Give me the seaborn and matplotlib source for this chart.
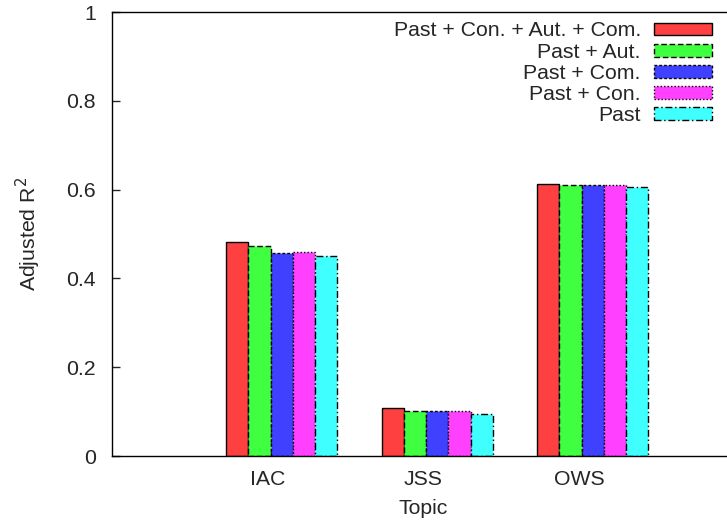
import matplotlib
matplotlib.use("Agg")
import matplotlib.pyplot as plt
import seaborn as sns
import pandas as pd

topics = ["IAC", "JSS", "OWS"]
series = ["Past + Con. + Aut. + Com.", "Past + Aut.", "Past + Com.", "Past + Con.", "Past"]
values = {
    "Past + Con. + Aut. + Com.": [0.483, 0.108, 0.612],
    "Past + Aut.": [0.474, 0.102, 0.611],
    "Past + Com.": [0.458, 0.101, 0.610],
    "Past + Con.": [0.460, 0.102, 0.610],
    "Past": [0.451, 0.094, 0.606],
}
ytick_vals = [0, 0.2, 0.4, 0.6, 0.8, 1.0]
ytick_labels = ["0", "0.2", "0.4", "0.6", "0.8", "1"]

colors = ["#ff4040", "#40ff40", "#4040ff", "#ff40ff", "#40ffff"]
edge_styles = ["solid", (0, (4, 2)), (0, (2, 1.5)), (0, (1, 1.5)), (0, (5, 2, 1, 2))]
group_shift = 0.088
FS = 15.3

sns.set_style("ticks")
plt.rcParams["font.family"] = ["Liberation Sans", "DejaVu Sans"]
plt.rcParams["font.size"] = FS

rows = []
for s in series:
    for i, t in enumerate(topics):
        rows.append({"pos": i + group_shift, "topic": t, "series": s, "value": values[s][i]})
df = pd.DataFrame(rows)

fig = plt.figure(figsize=(7.27, 5.23), dpi=100)
ax = fig.add_axes([112.5 / 727, (523 - 456) / 523, 622 / 727, 444 / 523])

sns.barplot(data=df, x="pos", y="value", hue="series", hue_order=series,
            palette=colors, native_scale=True, width=5 / 7, saturation=1,
            legend=False, ax=ax, errorbar=None)

for cont, ls in zip(ax.containers, edge_styles):
    for p in cont.patches:
        p.set_edgecolor("black")
        p.set_linewidth(1.0)
        p.set_linestyle(ls)

ax.set_xlim(-1, 3)
ax.set_ylim(0, 1)
ax.set_xticks(range(len(topics)))
ax.set_xticklabels(topics)
ax.set_yticks(ytick_vals)
ax.set_yticklabels(ytick_labels)
ax.tick_params(axis="x", length=0, pad=10, labelsize=FS)
ax.tick_params(axis="y", direction="in", length=6, width=1, pad=12, labelsize=FS)
for sp in ax.spines.values():
    sp.set_visible(True)
    sp.set_linewidth(1.0)
    sp.set_color("black")

ax.set_xlabel("Topic", fontsize=FS, labelpad=7)
ax.set_ylabel("Adjusted R$^2$", fontsize=FS, labelpad=17)

leg = ax.legend(handles=ax.containers, labels=series, loc="upper right",
                bbox_to_anchor=(712 / 727, 1 - 21.5 / 523), bbox_transform=fig.transFigure,
                frameon=False, markerfirst=False, fontsize=FS, handlelength=2.75,
                handleheight=0.55, handletextpad=0.6, labelspacing=0.1,
                borderpad=0, borderaxespad=0)

fig.savefig("out.png", dpi=100)
